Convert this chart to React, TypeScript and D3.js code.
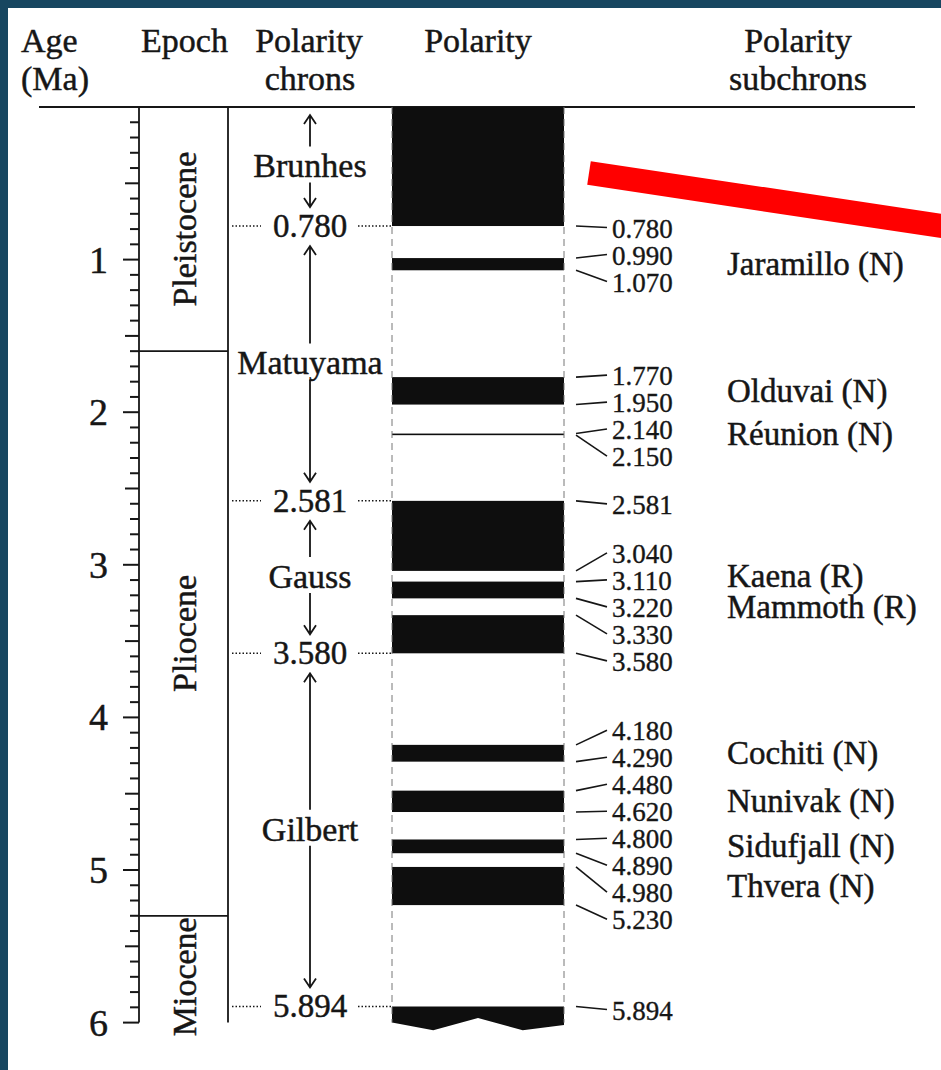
import React from "react";
import * as d3 from "d3";

// ---------- data ----------
const ageTicks = [1, 2, 3, 4, 5, 6];
const epochNames = ["Pleistocene", "Pliocene", "Miocene"];
const epochBounds = [0, 1.6, 5.3, 6.1];
const chronNames = ["Brunhes", "Matuyama", "Gauss", "Gilbert"];
const chronBounds = [0, 0.78, 2.581, 3.58, 5.894];
const normalStarts = [0, 0.99, 1.77, 2.14, 2.581, 3.11, 3.33, 4.18, 4.48, 4.8, 4.98, 5.894];
const normalEnds = [0.78, 1.07, 1.95, 2.15, 3.04, 3.22, 3.58, 4.29, 4.62, 4.89, 5.23, 6.0];
const boundaryAges = [0.78, 0.99, 1.07, 1.77, 1.95, 2.14, 2.15, 2.581, 3.04, 3.11, 3.22, 3.33, 3.58, 4.18, 4.29, 4.48, 4.62, 4.8, 4.89, 4.98, 5.23, 5.894];
const subchronNames = ["Jaramillo (N)", "Olduvai (N)", "Réunion (N)", "Kaena (R)", "Mammoth (R)", "Cochiti (N)", "Nunivak (N)", "Sidufjall (N)", "Thvera (N)"];
const subchronStarts = [0.99, 1.77, 2.14, 3.04, 3.22, 4.18, 4.48, 4.8, 4.98];
const subchronEnds = [1.07, 1.95, 2.15, 3.11, 3.33, 4.29, 4.62, 4.89, 5.23];
// broken (jagged) base of the last bar: fraction across, age of lower edge
const jagFrac = [0, 0.24, 0.5, 0.76, 1];
const jagAge = [6.0, 6.05, 5.97, 6.05, 6.015];

// ---------- layout ----------
const W = 941;
const H = 1070;
const FONT = "'Liberation Serif', 'Times New Roman', serif";
const INK = "#161616";
const FRAME = "#174660";
const axisX = 139;
const epochRight = 228;
const polL = 392;
const polR = 564;
const chronX = (epochRight + polL) / 2;
const subTickX1 = 576;
const subTickX2 = 607;
const subTextX = 612;
const subNameX = 727;
const TS = 0.45; // text stroke to mimic the heavier scanned type

const y = d3.scaleLinear().domain([0, 6]).range([107, 1022.6]);

function layoutLabels(desired: number[], gap: number, bias: number): number[] {
  let clusters = desired.map((d, i) => ({ start: i, n: 1, sum: d }));
  let changed = true;
  while (changed) {
    changed = false;
    for (let i = 0; i < clusters.length - 1; i++) {
      const a = clusters[i];
      const b = clusters[i + 1];
      const aBot = a.sum / a.n + ((a.n - 1) * gap) / 2;
      const bTop = b.sum / b.n - ((b.n - 1) * gap) / 2;
      if (bTop - aBot < gap) {
        clusters.splice(i, 2, { start: a.start, n: a.n + b.n, sum: a.sum + b.sum });
        changed = true;
        break;
      }
    }
  }
  const out: number[] = [];
  clusters.forEach((c) => {
    const top = c.sum / c.n - ((c.n - 1) * gap) / 2;
    for (let k = 0; k < c.n; k++) out.push(top + k * gap + bias);
  });
  return out;
}

function Arrow({ x, y1, y2 }: { x: number; y1: number; y2: number }) {
  const dir = y2 > y1 ? 1 : -1;
  const d = `M${x},${y1}L${x},${y2}M${x - 6},${y2 - dir * 9}L${x},${y2}L${x + 6},${y2 - dir * 9}`;
  return <path d={d} fill="none" stroke={INK} strokeWidth={1.8} />;
}

export default function App() {
  const minorTicks = d3.range(1, 61).map((i) => i / 10);
  const labelYs = layoutLabels(boundaryAges.map((a) => y(a)), 27, 4);

  const lastIdx = normalStarts.length - 1;
  const jagPts = jagFrac.map((f, i) => [polL + f * (polR - polL), y(jagAge[i])] as [number, number]);
  const jagPath =
    `M${polL},${y(normalStarts[lastIdx])}L${polR},${y(normalStarts[lastIdx])}` +
    jagPts
      .slice()
      .reverse()
      .map((p) => `L${p[0]},${p[1]}`)
      .join("") +
    "Z";

  const header = (t: string, x: number, yy: number, anchor: string = "middle") => (
    <text x={x} y={yy} textAnchor={anchor} fontSize={34} fill={INK} stroke={INK} strokeWidth={TS}>
      {t}
    </text>
  );

  return (
    <svg
      width={W}
      height={H}
      style={{ position: "absolute", left: 0, top: 0, background: "#fff" }}
      fontFamily={FONT}
    >
      <rect x={0} y={0} width={W} height={H} fill="#fff" />
      <rect x={0} y={0} width={W} height={8} fill={FRAME} />
      <rect x={0} y={0} width={8} height={H} fill={FRAME} />

      {/* headers */}
      {header("Age", 21, 52, "start")}
      {header("(Ma)", 21, 90, "start")}
      {header("Epoch", (axisX + epochRight) / 2 + 1, 52)}
      {header("Polarity", chronX - 1, 52)}
      {header("chrons", chronX, 90)}
      {header("Polarity", (polL + polR) / 2, 52)}
      {header("Polarity", 798, 52)}
      {header("subchrons", 798, 90)}
      <line x1={39} x2={915} y1={y(0)} y2={y(0)} stroke={INK} strokeWidth={2} />

      {/* age axis */}
      <line x1={axisX} x2={axisX} y1={y(0)} y2={y(6)} stroke={INK} strokeWidth={1.8} />
      {minorTicks.map((t, i) => {
        const r = Math.round(t * 10);
        const len = r % 10 === 0 ? 16 : r % 5 === 0 ? 14 : 9;
        return <line key={i} x1={axisX - len} x2={axisX} y1={y(t)} y2={y(t)} stroke={INK} strokeWidth={2} />;
      })}
      {ageTicks.map((t) => (
        <text key={t} x={108} y={y(t)} dy="0.34em" textAnchor="end" fontSize={38} fill={INK} stroke={INK} strokeWidth={TS}>
          {t}
        </text>
      ))}

      {/* epochs */}
      <line x1={epochRight} x2={epochRight} y1={y(0)} y2={y(6)} stroke={INK} strokeWidth={1.8} />
      {epochBounds.slice(1, -1).map((b, i) => (
        <line key={i} x1={axisX} x2={epochRight} y1={y(b)} y2={y(b)} stroke={INK} strokeWidth={1.8} />
      ))}
      {epochNames.map((n, i) => {
        const cy = y((epochBounds[i] + epochBounds[i + 1]) / 2);
        return (
          <text
            key={n}
            transform={`translate(${(axisX + epochRight) / 2 + 1},${cy}) rotate(-90)`}
            textAnchor="middle"
            dy="0.33em"
            fontSize={34}
            fill={INK}
            stroke={INK}
            strokeWidth={TS}
          >
            {n}
          </text>
        );
      })}

      {/* polarity chrons */}
      {chronNames.map((n, i) => {
        const a0 = chronBounds[i];
        const a1 = chronBounds[i + 1];
        const cy = y((a0 + a1) / 2);
        const topTip = i === 0 ? y(a0) + 8 : y(a0) + 20;
        return (
          <g key={n}>
            <text x={chronX} y={cy} dy="0.32em" textAnchor="middle" fontSize={34} fill={INK} stroke={INK} strokeWidth={TS}>
              {n}
            </text>
            <Arrow x={chronX} y1={cy - 20} y2={topTip} />
            <Arrow x={chronX} y1={cy + 16} y2={y(a1) - 19} />
          </g>
        );
      })}
      {chronBounds.slice(1).map((b, i) => (
        <g key={i}>
          <line x1={232} x2={261} y1={y(b)} y2={y(b)} stroke={INK} strokeWidth={1.5} strokeDasharray="1.5,2" />
          <line x1={358} x2={polL} y1={y(b)} y2={y(b)} stroke={INK} strokeWidth={1.5} strokeDasharray="1.5,2" />
          <text x={chronX} y={y(b)} dy="0.33em" textAnchor="middle" fontSize={33} fill={INK} stroke={INK} strokeWidth={TS}>
            {b.toFixed(3)}
          </text>
        </g>
      ))}

      {/* polarity column */}
      {normalStarts.slice(0, lastIdx).map((s, i) => (
        <rect
          key={i}
          x={polL}
          y={y(s)}
          width={polR - polL}
          height={Math.max(1.6, y(normalEnds[i]) - y(s))}
          fill="#0e0e0e"
        />
      ))}
      <path d={jagPath} fill="#0e0e0e" />
      <line x1={polL} x2={polL} y1={y(0)} y2={y(6)} stroke="#777" strokeWidth={1} strokeDasharray="7,5" />
      <line x1={polR} x2={polR} y1={y(0)} y2={y(6)} stroke="#777" strokeWidth={1} strokeDasharray="7,5" />

      {/* subchron boundary ages */}
      {boundaryAges.map((a, i) => (
        <g key={i}>
          <line x1={subTickX1} x2={subTickX2} y1={y(a)} y2={labelYs[i] - 1} stroke={INK} strokeWidth={1.6} />
          <text x={subTextX} y={labelYs[i]} dy="0.34em" fontSize={27} fill={INK} stroke={INK} strokeWidth={0.35}>
            {a.toFixed(3)}
          </text>
        </g>
      ))}

      {/* subchron names */}
      {subchronNames.map((n, i) => (
        <text
          key={n}
          x={subNameX}
          y={y((subchronStarts[i] + subchronEnds[i]) / 2)}
          dy="0.33em"
          fontSize={33}
          fill={INK}
          stroke={INK}
          strokeWidth={TS}
        >
          {n}
        </text>
      ))}

      {/* red annotation stroke */}
      <line x1={589} y1={173} x2={945} y2={226.5} stroke="#ff0000" strokeWidth={24} />
    </svg>
  );
}
